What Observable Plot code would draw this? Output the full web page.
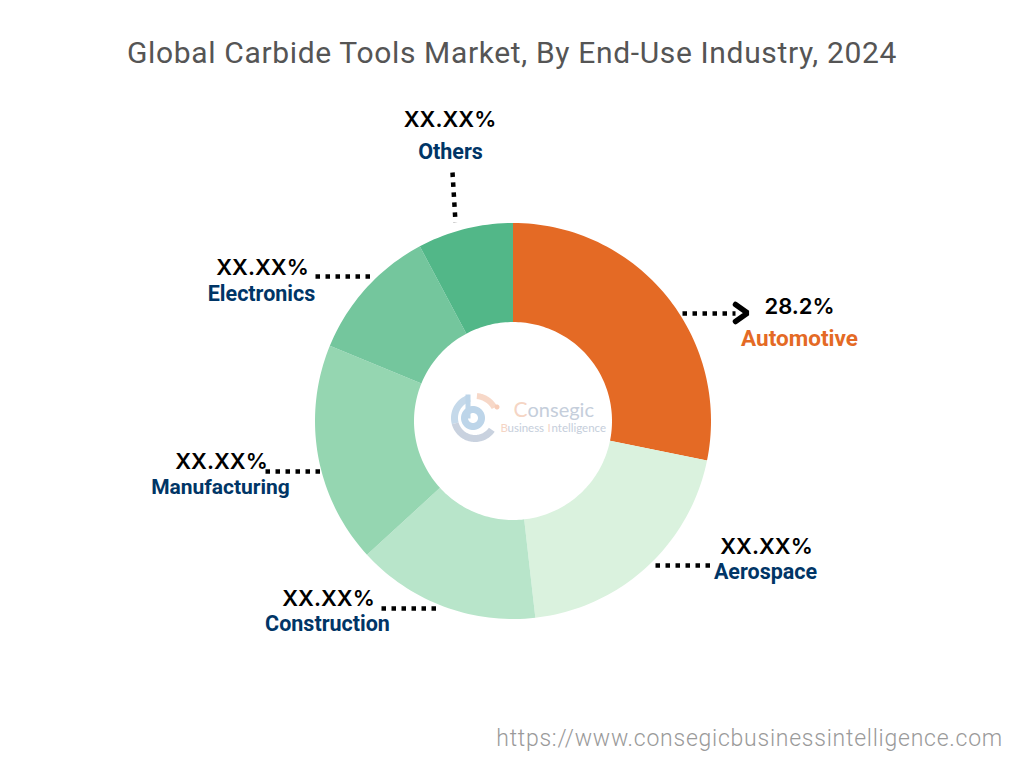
<!DOCTYPE html>
<html>
<head>
<meta charset="utf-8">
<script src="https://cdn.jsdelivr.net/npm/d3@7"></script>
<script src="https://cdn.jsdelivr.net/npm/@observablehq/plot@0.6"></script>
<style>
html,body{margin:0;padding:0;background:#fff;width:1024px;height:768px;overflow:hidden}
#title{height:90px;box-sizing:border-box;padding-top:34px;text-align:center;font:400 30px/38px Roboto,sans-serif;letter-spacing:.65px;color:#555;white-space:nowrap}
#chart{height:630px}
#chart svg{display:block}
#caption{height:48px;box-sizing:border-box;padding:4px 21px 0 0;text-align:right;font:300 23px/30px Roboto,sans-serif;letter-spacing:.75px;color:#9a9a9a;white-space:nowrap}
</style>
</head>
<body>
<div id="title">Global Carbide Tools Market, By End-Use Industry, 2024</div>
<div id="chart"></div>
<div id="caption">https://www.consegicbusinessintelligence.com</div>
<script>
const categories = ["Automotive", "Aerospace", "Construction", "Manufacturing", "Electronics", "Others"];
const shares = [28.2, 20, 15, 18, 11, 7.8];
const shareLabels = ["28.2%", "XX.XX%", "XX.XX%", "XX.XX%", "XX.XX%", "XX.XX%"];
const colors = ["#E46A25", "#DAF2DE", "#B8E5CA", "#95D6B1", "#74C69D", "#52B788"];
const nameColors = ["#E46A25", "#003566", "#003566", "#003566", "#003566", "#003566"];
const nameSizes = [22.5, 21.5, 21.5, 21, 21.5, 21.5];

// Page geometry: one data unit is the donut's outer radius.
const W = 1024, H = 630, top_ = 90, cx = 513, cy = 421, R = 198, hole = 0.5;
const ux = p => (p - cx) / R, uy = p => (cy - p) / R;

// Label placement, in page pixels: [pct x, pct y, name x, name y, leader x1, y1, x2, y2]
const layout = [
  [799, 306, 799, 338, 682, 313, 735, 313],
  [766, 546, 765, 572, 655, 565, 710, 565],
  [328, 598, 327, 624, 381, 608, 436, 608],
  [221, 461, 220, 487, 265, 471, 320, 471],
  [262, 267, 261, 294, 315, 276, 370, 276],
  [449.5, 119, 450, 152, 452, 172, 455, 222]
];

// Ring band between two angles (degrees clockwise from north), for Plot.area
function band(a0, a1, r0, r1, ox = 0, oy = 0, extra = {}) {
  const n = Math.max(2, Math.ceil(Math.abs(a1 - a0) / 1.5));
  return d3.range(n + 1).map(i => {
    const a = (a0 + (a1 - a0) * i / n) * Math.PI / 180;
    return {x1: ox + r0 * Math.sin(a), y1: oy + r0 * Math.cos(a),
            x2: ox + r1 * Math.sin(a), y2: oy + r1 * Math.cos(a), ...extra};
  });
}

const total = d3.sum(shares);
let acc = 0;
const slices = categories.flatMap((c, i) => {
  const a0 = acc / total * 360; acc += shares[i];
  return band(a0, acc / total * 360, hole, 1, 0, 0, {category: c});
});

const rows = categories.map((c, i) => {
  const [px, py, nx, ny, x1, y1, x2, y2] = layout[i];
  return {c, pct: shareLabels[i], nameColor: nameColors[i], nameSize: nameSizes[i],
    px: ux(px), py: uy(py), nx: ux(nx), ny: uy(ny),
    x1: ux(x1), y1: uy(y1), x2: ux(x2), y2: uy(y2)};
});
const chevron = [[735, 304], [747, 312.5], [735, 321]].map(([a, b]) => ({x: ux(a), y: uy(b)}));

// Watermark logo
const lx = ux(475), ly = uy(418), s = 1 / R;
const logoBands = [
  {a0: 345, a1: 255, r0: 17, r1: 24, f: "#C5D9EA"},
  {a0: 255, a1: 125, r0: 17, r1: 24, f: "#C9D2DF"},
  {a0: 0, a1: 360, r0: 5, r1: 12, f: "#BDD5E9", dx: -2},
  {a0: 5, a1: 62, r0: 19, r1: 25, f: "#F7D8C8"},
  {a0: 0, a1: 360, r0: 0, r1: 2.5, f: "#F7CDB8", dx: 22, dy: 11}
];
const logoMarks = logoBands.map(b =>
  Plot.area(band(b.a0, b.a1, b.r0 * s, b.r1 * s, lx + (b.dx || 0) * s, ly + (b.dy || 0) * s), {
    x1: "x1", y1: "y1", x2: "x2", y2: "y2", fill: b.f
  }));
const stem = [{x1: ux(467.5), y1: uy(394), x2: ux(467.5), y2: uy(418)}];
const logoFont = {fontFamily: "Lato, sans-serif", textAnchor: "start", lineAnchor: "middle"};

const chart = Plot.plot({
  width: W, height: H,
  margin: 0,
  x: {domain: [ux(0), ux(W)], range: [0, W], axis: null},
  y: {domain: [uy(top_), uy(top_ + H)], range: [0, H], axis: null},
  color: {domain: categories, range: colors},
  style: {background: "#fff"},
  marks: [
    Plot.area(slices, {x1: "x1", y1: "y1", x2: "x2", y2: "y2", z: "category", fill: "category"}),
    ...logoMarks,
    Plot.link(stem, {x1: "x1", y1: "y1", x2: "x2", y2: "y2", stroke: "#BDD5E9", strokeWidth: 5}),
    Plot.text([{x: ux(513), y: uy(410)}], {x: "x", y: "y", text: () => "C", fill: "#F5D5C4", fontSize: 21, ...logoFont}),
    Plot.text([{x: ux(527), y: uy(410)}], {x: "x", y: "y", text: () => "onsegic", fill: "#C5CEDB", fontSize: 20, ...logoFont}),
    Plot.text([{x: ux(500), y: uy(428)}], {x: "x", y: "y", text: () => "B", fill: "#F5D5C4", fontSize: 11.5, ...logoFont}),
    Plot.text([{x: ux(507), y: uy(428)}], {x: "x", y: "y", text: () => "usiness", fill: "#C5CEDB", fontSize: 11.5, ...logoFont}),
    Plot.text([{x: ux(547), y: uy(428)}], {x: "x", y: "y", text: () => "I", fill: "#F5D5C4", fontSize: 11.5, ...logoFont}),
    Plot.text([{x: ux(551), y: uy(428)}], {x: "x", y: "y", text: () => "ntelligence", fill: "#C5CEDB", fontSize: 11.5, ...logoFont}),
    Plot.link(rows, {x1: "x1", y1: "y1", x2: "x2", y2: "y2", stroke: "#000", strokeWidth: 4.5, strokeDasharray: "4.5 5.5"}),
    Plot.line(chevron, {x: "x", y: "y", stroke: "#000", strokeWidth: 5.5, strokeLinejoin: "miter"}),
    Plot.text(rows, {x: "px", y: "py", text: "pct", fill: "#000", fontSize: 22, fontWeight: 600, fontFamily: "Inter, sans-serif", lineAnchor: "middle"}),
    Plot.text(rows, {x: "nx", y: "ny", text: "c", fill: "nameColor", fontSize: d => d.nameSize, fontWeight: 700, fontFamily: "Roboto, sans-serif", lineAnchor: "middle"})
  ]
});
document.getElementById("chart").appendChild(chart);
</script>
</body>
</html>
